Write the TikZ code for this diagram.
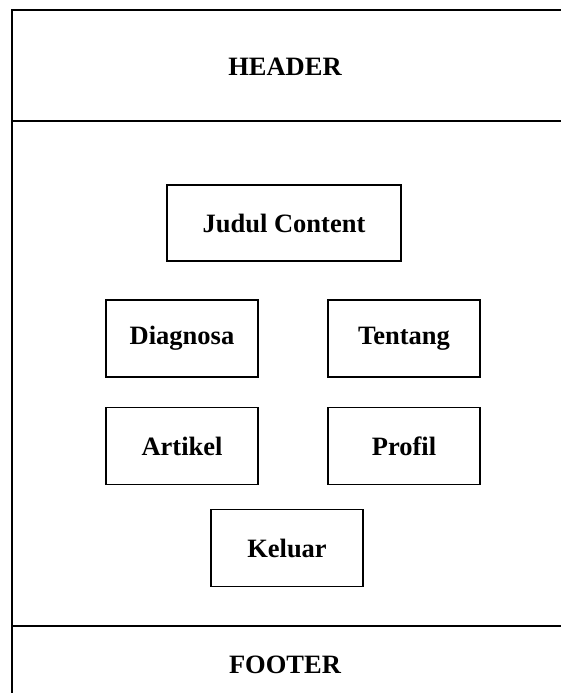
\documentclass[tikz,border=0pt]{standalone}
\usepackage{fontspec}
\setmainfont{Liberation Serif}
\usetikzlibrary{positioning}

\begin{document}
\begin{tikzpicture}[
  x=1pt, y=-1pt,
  font=\bfseries\fontsize{26.5}{30}\selectfont,
  frameline/.style={line width=2.2pt},
  menubox/.style={
    draw, line width=1.8pt,
    minimum width=152pt, minimum height=77pt, inner sep=0pt, align=center
  }
]
\useasboundingbox (0,0) rectangle (561,693);

% Page frame: top, left edge, header and footer rules
\coordinate (tl) at (12,10);
\coordinate (tr) at (561,10);
\coordinate (bl) at (12,693);
\coordinate (hl) at (12,121);
\coordinate (hr) at (561,121);
\coordinate (fl) at (12,626);
\coordinate (fr) at (561,626);
\draw[frameline] (tr) -- (tl) -- (bl);
\draw[frameline] (hl) -- (hr);
\draw[frameline] (fl) -- (fr);

\node (header) at (285,67) {HEADER};
\node (footer) at (285,665) {FOOTER};

% Content: title and menu buttons
\node[menubox, minimum width=234pt, minimum height=76pt] (judul) at (284,223) {Judul Content};
\node[menubox] (diagnosa) at (182,338.5) {Diagnosa};
\node[menubox] (tentang) at (404,338.5) {Tentang};
\node[menubox] (artikel) at (182,446) {Artikel};
\node[menubox] (profil) at (404,446) {Profil};
\node[menubox] (keluar) at (287,548) {Keluar};

\end{tikzpicture}
\end{document}
